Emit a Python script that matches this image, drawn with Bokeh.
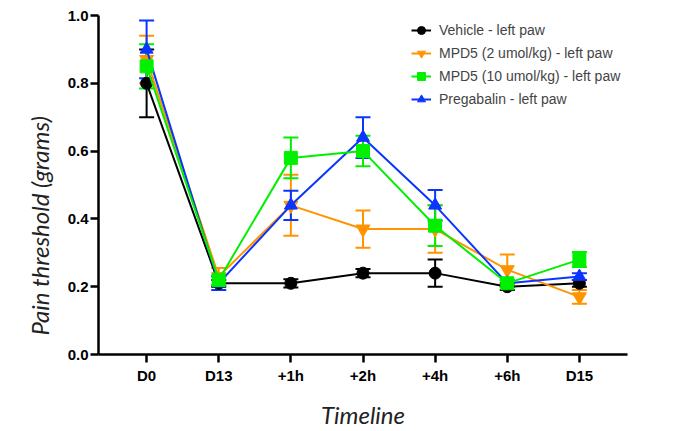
from bokeh.plotting import figure
from bokeh.models import (ColumnDataSource, Whisker, TeeHead, Legend, LegendItem,
                          Title, FixedTicker, Range1d)
from bokeh.embed import file_html
from bokeh.resources import INLINE

timeline = ["D0", "D13", "+1h", "+2h", "+4h", "+6h", "D15"]

vehicle = [0.80, 0.21, 0.21, 0.24, 0.24, 0.20, 0.21]
vehicle_err = [0.10, 0.01, 0.012, 0.012, 0.04, 0.01, 0.01]

mpd5_2 = [0.87, 0.23, 0.44, 0.37, 0.37, 0.25, 0.17]
mpd5_2_err = [0.07, 0.025, 0.09, 0.055, 0.07, 0.045, 0.02]

mpd5_10 = [0.85, 0.22, 0.58, 0.60, 0.38, 0.21, 0.28]
mpd5_10_err = [0.065, 0.015, 0.06, 0.045, 0.06, 0.01, 0.022]

pregabalin = [0.90, 0.21, 0.44, 0.64, 0.44, 0.21, 0.23]
pregabalin_err = [0.085, 0.02, 0.043, 0.06, 0.045, 0.01, 0.01]

y_ticks = [0.0, 0.2, 0.4, 0.6, 0.8, 1.0]

series = [
    ("Vehicle - left paw", vehicle, vehicle_err, "#000000", "circle", 12),
    ("MPD5 (2 umol/kg) - left paw", mpd5_2, mpd5_2_err, "#FF9400", "inverted_triangle", 14),
    ("MPD5 (10 umol/kg) - left paw", mpd5_10, mpd5_10_err, "#00F000", "square", 13),
    ("Pregabalin - left paw", pregabalin, pregabalin_err, "#0A35FF", "triangle", 13),
]
draw_order = [0, 1, 3, 2]

p = figure(width=676, height=431, output_backend="svg", toolbar_location=None,
           x_range=Range1d(-0.667, 6.667), y_range=Range1d(0, 1.0),
           min_border_left=98, min_border_right=49, min_border_top=15, min_border_bottom=77)
p.outline_line_color = None
p.grid.visible = False
p.background_fill_color = "white"

renderers = {}
for i in draw_order:
    name, vals, errs, color, marker, size = series[i]
    xs = list(range(len(timeline)))
    src = ColumnDataSource(dict(x=xs, y=vals,
                                lo=[v - e for v, e in zip(vals, errs)],
                                hi=[v + e for v, e in zip(vals, errs)]))
    w = Whisker(source=src, base="x", lower="lo", upper="hi", dimension="height",
                line_color=color, line_width=2,
                upper_head=TeeHead(size=15, line_color=color, line_width=2),
                lower_head=TeeHead(size=15, line_color=color, line_width=2))
    p.add_layout(w)
    ln = p.line("x", "y", source=src, line_color=color, line_width=2)
    sc = p.scatter("x", "y", source=src, marker=marker, size=size,
                   fill_color=color, line_color=color)
    renderers[i] = (ln, sc)

items = [LegendItem(label=series[i][0], renderers=list(renderers[i])) for i in range(4)]
legend = Legend(items=items, location=(313, 244), padding=2, margin=0, spacing=0,
                label_height=23, glyph_height=20, glyph_width=20, label_standoff=8,
                label_text_font="Liberation Sans", label_text_font_size="14px",
                border_line_color=None, background_fill_alpha=0)
p.add_layout(legend)

# axes
p.xaxis.ticker = FixedTicker(ticks=list(range(len(timeline))))
p.xaxis.major_label_overrides = {i: t for i, t in enumerate(timeline)}
p.yaxis.ticker = FixedTicker(ticks=y_ticks)
p.yaxis.major_label_overrides = {0.0: "0.0", 0.2: "0.2", 0.4: "0.4", 0.6: "0.6",
                                 0.8: "0.8", 1.0: "1.0"}
for ax in (p.xaxis[0], p.yaxis[0]):
    ax.axis_line_width = 2.5
    ax.axis_line_color = "black"
    ax.major_tick_line_width = 2.5
    ax.major_tick_line_color = "black"
    ax.major_tick_out = 8
    ax.major_tick_in = 0
    ax.minor_tick_line_color = None
    ax.major_label_text_font = "Liberation Sans"
    ax.major_label_text_font_style = "bold"
    ax.major_label_text_font_size = "15px"
    ax.major_label_text_color = "black"
p.yaxis.major_label_standoff = 2
p.xaxis.major_label_standoff = 4

p.xaxis.axis_label = "Timeline"
p.xaxis.axis_label_text_font = "Lato"
p.xaxis.axis_label_text_font_style = "italic"
p.xaxis.axis_label_text_font_size = "24px"
p.xaxis.axis_label_text_color = "#222222"
p.xaxis.axis_label_standoff = 13

ytitle = Title(text="Pain threshold (grams)", align="left", offset=19,
               text_font="Lato", text_font_style="italic", text_font_size="24px",
               text_color="#222222", standoff=21)
p.add_layout(ytitle, "left")

open("out.html", "w").write(file_html(p, INLINE))
